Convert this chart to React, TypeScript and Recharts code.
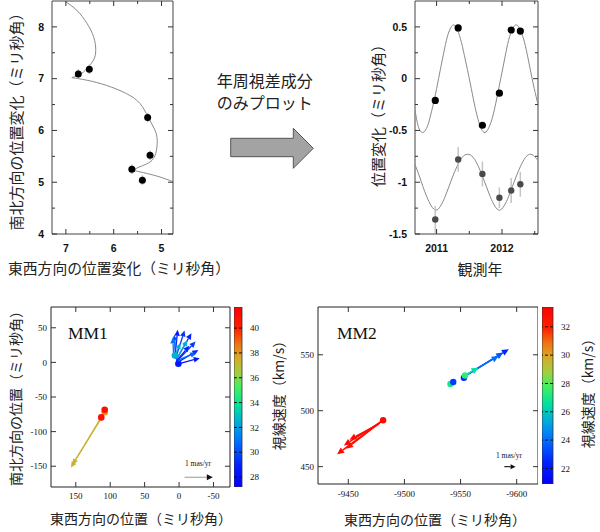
import React from "react";
import {
  ComposedChart,
  Line,
  Scatter,
  Bar,
  XAxis,
  YAxis,
  ErrorBar,
  ReferenceLine,
  ReferenceArea,
} from "recharts";

const JP = '"Noto Sans CJK JP", "Noto Sans", sans-serif';
const SANS = '"Liberation Sans", Arial, sans-serif';
const SERIF = '"Liberation Serif", "Times New Roman", serif';

// ---- top-left: sky track (east-west vs north-south offset, mas)
const p1Obs = [
  { x: 6.74, y: 7.09, err: 0.09 },
  { x: 6.51, y: 7.18, err: 0.09 },
  { x: 5.29, y: 6.25, err: 0.09 },
  { x: 5.24, y: 5.52, err: 0.09 },
  { x: 5.62, y: 5.25, err: 0.09 },
  { x: 5.4, y: 5.04, err: 0.09 },
];
const p1TrackA = [
  [7.03, 8.5], [6.77, 8.32], [6.56, 8.07], [6.42, 7.81], [6.375, 7.55],
  [6.42, 7.36], [6.53, 7.23], [6.67, 7.1], [6.875, 7.02],
];
const p1TrackB = [
  [6.875, 7.02], [6.56, 6.97], [6.15, 6.87], [5.73, 6.71], [5.45, 6.52],
  [5.28, 6.26], [5.14, 6.01], [5.09, 5.81], [5.12, 5.56], [5.24, 5.39],
  [5.45, 5.3], [5.6, 5.23],
];
const p1TrackC = [[5.6, 5.23], [5.45, 5.2], [5.1, 5.12], [4.76, 5.01]];
const p1XMajor = [7, 6, 5];
const p1XMinor = [6.5, 5.5];
const p1YMajor = [4, 5, 6, 7, 8];
const p1YMinor = [4.5, 5.5, 6.5, 7.5];

// ---- top-right: parallax only, vs observing year
const p2Upper = [
  { x: 2010.98, y: -0.21, err: 0.03 },
  { x: 2011.33, y: 0.49, err: 0.03 },
  { x: 2011.7, y: -0.45, err: 0.03 },
  { x: 2011.96, y: -0.14, err: 0.03 },
  { x: 2012.14, y: 0.47, err: 0.03 },
  { x: 2012.28, y: 0.46, err: 0.03 },
];
const p2Lower = [
  { x: 2010.98, y: -1.36, err: 0.13 },
  { x: 2011.33, y: -0.78, err: 0.12 },
  { x: 2011.7, y: -0.92, err: 0.12 },
  { x: 2011.96, y: -1.15, err: 0.1 },
  { x: 2012.14, y: -1.08, err: 0.12 },
  { x: 2012.28, y: -1.02, err: 0.12 },
];
const p2FitUpper = [
  [2010.67, -0.3], [2010.72, -0.46], [2010.79, -0.52], [2010.86, -0.46],
  [2010.91, -0.35], [2010.97, -0.19], [2011.03, 0.0], [2011.09, 0.19],
  [2011.15, 0.37], [2011.2, 0.47], [2011.26, 0.52], [2011.32, 0.47],
  [2011.38, 0.35], [2011.44, 0.18], [2011.5, 0.0], [2011.56, -0.19],
  [2011.62, -0.36], [2011.68, -0.48], [2011.74, -0.52], [2011.8, -0.47],
  [2011.86, -0.36], [2011.92, -0.19], [2011.98, 0.0], [2012.04, 0.19],
  [2012.1, 0.37], [2012.16, 0.48], [2012.22, 0.52], [2012.28, 0.47],
  [2012.34, 0.36], [2012.4, 0.19], [2012.46, 0.0], [2012.52, -0.17],
  [2012.55, -0.25],
];
const p2FitLower = [
  [2010.67, -0.83], [2010.73, -0.93], [2010.79, -1.04], [2010.85, -1.14],
  [2010.92, -1.23], [2010.99, -1.27], [2011.06, -1.23], [2011.13, -1.14],
  [2011.19, -1.04], [2011.25, -0.94], [2011.31, -0.85], [2011.39, -0.76],
  [2011.475, -0.73], [2011.56, -0.76], [2011.64, -0.85], [2011.7, -0.94],
  [2011.76, -1.04], [2011.82, -1.14], [2011.89, -1.23], [2011.96, -1.27],
  [2012.03, -1.23], [2012.1, -1.14], [2012.16, -1.04], [2012.22, -0.94],
  [2012.28, -0.85], [2012.36, -0.76], [2012.44, -0.73], [2012.51, -0.76],
  [2012.55, -0.79],
];
const p2XMajor = [2011, 2012];
const p2XMinor = [2011.5, 2012.5];
const p2YMajor = [0.5, 0, -0.5, -1, -1.5];
const p2YMinor = [0.25, -0.25, -0.75, -1.25];

// ---- bottom-left: MM1 maser spots and proper motions
const mm1Arrows = [
  { x1: 1, y1: -2, x2: -30, y2: 6, v: 28.5 },
  { x1: 2, y1: 0, x2: -28, y2: 18, v: 29 },
  { x1: 3, y1: 2, x2: -24, y2: 30, v: 29.5 },
  { x1: 4, y1: 4, x2: -18, y2: 42, v: 29 },
  { x1: 5, y1: 6, x2: -8, y2: 46, v: 29.5 },
  { x1: 6, y1: 8, x2: 2, y2: 47, v: 28.5 },
  { x1: 5, y1: 5, x2: 7, y2: 40, v: 30 },
  { x1: 2, y1: 3, x2: -25, y2: 14, v: 30.5 },
  { x1: 4, y1: 2, x2: -15, y2: 24, v: 29 },
  { x1: 3, y1: 6, x2: -12, y2: 32, v: 32.5 },
  { x1: 6, y1: 10, x2: -2, y2: 28, v: 32.5 },
  { x1: 8, y1: 12, x2: 9, y2: 36, v: 31 },
  { x1: 108, y1: -71, x2: 157, y2: -152, v: 37.3 },
  { x1: 112, y1: -79, x2: 155, y2: -148, v: 37.3 },
];
const mm1Spots = [
  { x: 108, y: -72, v: 38 },
  { x: 108, y: -68.5, v: 41 },
  { x: 113, y: -79.5, v: 41 },
  { x: 1, y: -2, v: 28.5 },
  { x: 6, y: 10, v: 32.5 },
];
const mm1Range = [27.2, 41.7];
const mm1Scale = [{ x: -8, y: -166 }, { x: -49, y: -166 }];
const mm1XTicks = [150, 100, 50, 0, -50];
const mm1YTicks = [50, 0, -50, -100, -150];
const mm1CbTicks = [28, 30, 32, 34, 36, 38, 40];

// ---- bottom-right: MM2
const mm2Arrows = [
  { x1: -9480, y1: 491, x2: -9440, y2: 461, v: 33 },
  { x1: -9479, y1: 490, x2: -9446, y2: 469, v: 33 },
  { x1: -9477, y1: 488, x2: -9451, y2: 474, v: 33 },
  { x1: -9478, y1: 489, x2: -9448, y2: 466, v: 32.8 },
  { x1: -9553, y1: 530.5, x2: -9593, y2: 555, v: 22.5 },
  { x1: -9552, y1: 529.5, x2: -9588, y2: 552, v: 23.5 },
  { x1: -9555, y1: 532, x2: -9584, y2: 549, v: 24 },
  { x1: -9553, y1: 531, x2: -9566, y2: 538.5, v: 26.5 },
];
const mm2Spots = [
  { x: -9481, y: 491.5, v: 33 },
  { x: -9553, y: 529.5, v: 22.5 },
  { x: -9541, y: 523.9, v: 27 },
  { x: -9543.5, y: 525.7, v: 23 },
  { x: -9554, y: 531.5, v: 27.5 },
];
const mm2Range = [20.9, 33.4];
const mm2Scale = [{ x: -9589, y: 450 }, { x: -9599, y: 450 }];
const mm2XTicks = [-9450, -9500, -9550, -9600];
const mm2YTicks = [450, 500, 550];
const mm2CbTicks = [22, 24, 26, 28, 30, 32];

const JET: [number, string][] = [
  [0, "#0000ff"], [0.12, "#0020ff"], [0.25, "#0070ff"], [0.35, "#00a8e0"],
  [0.45, "#00e0a0"], [0.55, "#40f060"], [0.63, "#a0d040"], [0.72, "#d8a828"],
  [0.8, "#f07010"], [0.88, "#ff2000"], [1, "#ff0000"],
];

const hex = (c: string) => [1, 3, 5].map((i) => parseInt(c.slice(i, i + 2), 16));
const jet = (t: number) => {
  t = Math.max(0, Math.min(1, t));
  for (let i = 1; i < JET.length; i++) {
    if (t <= JET[i][0]) {
      const [t0, c0] = JET[i - 1];
      const [t1, c1] = JET[i];
      const f = (t - t0) / (t1 - t0);
      const a = hex(c0);
      const b = hex(c1);
      return `rgb(${a.map((v, k) => Math.round(v + (b[k] - v) * f)).join(",")})`;
    }
  }
  return JET[JET.length - 1][1];
};
const velColor = (v: number, r: number[]) => jet((v - r[0]) / (r[1] - r[0]));

const xy = (a: number[][]) => a.map(([x, y]) => ({ x, y }));

type Box = { l: number; r: number; t: number; b: number };
type TickCfg = {
  box: Box;
  major: number[];
  gap: number;
  font: string;
  size: number;
  weight?: number;
};

const xTick = (c: TickCfg) => (p: any) => {
  const x = p.x;
  const v = p.payload.value;
  const maj = c.major.includes(v);
  const len = maj ? 5 : 3;
  return (
    <g>
      <line x1={x} x2={x} y1={c.box.b} y2={c.box.b - len} stroke="#333" />
      <line x1={x} x2={x} y1={c.box.t} y2={c.box.t + len} stroke="#333" />
      {maj && (
        <text x={x} y={c.box.b + c.gap} dy="0.35em" textAnchor="middle"
          fontFamily={c.font} fontSize={c.size} fontWeight={c.weight} fill="#111">
          {String(v)}
        </text>
      )}
    </g>
  );
};

const yTick = (c: TickCfg) => (p: any) => {
  const y = p.y;
  const v = p.payload.value;
  const maj = c.major.includes(v);
  const len = maj ? 5 : 3;
  return (
    <g>
      <line x1={c.box.l} x2={c.box.l + len} y1={y} y2={y} stroke="#333" />
      <line x1={c.box.r} x2={c.box.r - len} y1={y} y2={y} stroke="#333" />
      {maj && (
        <text x={c.box.l - c.gap} y={y} dy="0.35em" textAnchor="end"
          fontFamily={c.font} fontSize={c.size} fontWeight={c.weight} fill="#111">
          {String(v)}
        </text>
      )}
    </g>
  );
};

const arrowShape = (color: string, head = 6, hw = 2.8, lw = 1.3, lineColor?: string) => (p: any) => {
  const { x1, y1, x2, y2 } = p;
  const dx = x2 - x1;
  const dy = y2 - y1;
  const L = Math.hypot(dx, dy) || 1;
  const ux = dx / L;
  const uy = dy / L;
  const bx = x2 - ux * head;
  const by = y2 - uy * head;
  return (
    <g>
      <line x1={x1} y1={y1} x2={bx} y2={by} stroke={lineColor || color} strokeWidth={lw} />
      <polygon
        points={`${x2},${y2} ${bx - uy * hw},${by + ux * hw} ${bx + uy * hw},${by - ux * hw}`}
        fill={color}
      />
    </g>
  );
};

const Txt = ({ x, y, text, size, font = JP, rot = 0, start = false, color = "#222" }: any) => (
  <div
    style={{
      position: "absolute",
      left: x,
      top: y,
      transform: `translate(${start ? "0" : "-50%"}, -50%) rotate(${rot}deg)`,
      fontSize: size,
      fontFamily: font,
      whiteSpace: "nowrap",
      lineHeight: 1,
      color,
    }}
  >
    {text}
  </div>
);

const ColorBar = ({ left, top, w, h, range, ticks, id }: any) => {
  const tick = (p: any) => (
    <text x={w + 8} y={p.y} dy="0.35em" textAnchor="start" fontFamily={SERIF} fontSize={9} fill="#111">
      {String(p.payload.value)}
    </text>
  );
  return (
    <div style={{ position: "absolute", left, top }}>
      <ComposedChart width={w + 30} height={h} data={[{ k: "cb", v: range }]}
        margin={{ top: 0, right: 0, bottom: 0, left: 0 }} barCategoryGap={0}>
        <defs>
          <linearGradient id={id} x1="0" y1="1" x2="0" y2="0">
            {JET.map(([t, c]) => <stop key={t} offset={t} stopColor={c} />)}
          </linearGradient>
        </defs>
        <XAxis dataKey="k" type="category" hide />
        <YAxis orientation="right" type="number" domain={range} ticks={ticks} width={30}
          tick={tick} tickLine={false} axisLine={false} interval={0} allowDataOverflow />
        <Bar dataKey="v" fill={`url(#${id})`} stroke="#333" strokeWidth={0.8} isAnimationActive={false} />
        {ticks.map((t: number) => (
          <ReferenceLine key={t} y={t} stroke="#111" strokeDasharray="3 2" />
        ))}
      </ComposedChart>
    </div>
  );
};

const dot = (r: number, range: number[]) => (p: any) => (
  <circle cx={p.cx} cy={p.cy} r={r} fill={velColor(p.payload?.v ?? range[0], range)} />
);

export default function App() {
  const b1: Box = { l: 52, r: 173, t: 1, b: 234 };
  const b2: Box = { l: 75, r: 198, t: 1, b: 234 };
  const b3: Box = { l: 51, r: 230, t: 17, b: 197 };
  const b4: Box = { l: 48, r: 268, t: 17, b: 194 };
  const topTick = { font: SANS, size: 10.5, weight: 700 };
  const botTick = { font: SERIF, size: 9 };

  return (
    <div style={{ position: "absolute", left: 0, top: 0, width: 600, height: 532, background: "#fff", overflow: "hidden" }}>
      {/* top-left */}
      <div style={{ position: "absolute", left: 0, top: 0 }}>
        <ComposedChart width={200} height={260} margin={{ top: 1, right: 27, bottom: 0, left: 0 }}>
          <XAxis type="number" dataKey="x" domain={[4.76, 7.29]} reversed allowDataOverflow
            ticks={[...p1XMajor, ...p1XMinor]} interval={0} height={26} tickLine={false} axisLine={false}
            tick={xTick({ box: b1, major: p1XMajor, gap: 14, ...topTick })} />
          <YAxis type="number" dataKey="y" domain={[4, 8.5]} allowDataOverflow
            ticks={[...p1YMajor, ...p1YMinor]} interval={0} width={52} tickLine={false} axisLine={false}
            tick={yTick({ box: b1, major: p1YMajor, gap: 8, ...topTick })} />
          <ReferenceArea x1={4.76} x2={7.29} y1={4} y2={8.5} fill="none" stroke="#444" />
          {[p1TrackA, p1TrackB, p1TrackC].map((seg, i) => (
            <Line key={i} data={xy(seg)} dataKey="y" type="natural" stroke="#8a8a8a" strokeWidth={1}
              dot={false} isAnimationActive={false} />
          ))}
          <Scatter data={p1Obs} isAnimationActive={false}
            shape={(p: any) => <circle cx={p.cx} cy={p.cy} r={3.5} fill="#000" />}>
            <ErrorBar dataKey="err" direction="y" width={0} stroke="#b5b5b5" strokeWidth={1.5} />
          </Scatter>
        </ComposedChart>
      </div>
      <Txt x={15} y={118} text="南北方向の位置変化（ミリ秒角）" size={15} rot={-90} />
      <Txt x={8} y={268} text="東西方向の位置変化（ミリ秒角）" size={14.8} start />

      {/* middle arrow */}
      <Txt x={216.7} y={80} text="年周視差成分" size={16} start />
      <Txt x={216.7} y={101.7} text="のみプロット" size={16} start />
      <svg style={{ position: "absolute", left: 0, top: 0 }} width={600} height={200}>
        <polygon
          points="230.7,138.3 293.3,138.3 293.3,128.3 313.3,148.3 293.3,168.3 293.3,156.7 230.7,156.7"
          fill="#a3a3a3" stroke="#555" strokeWidth={1} />
      </svg>

      {/* top-right */}
      <div style={{ position: "absolute", left: 340, top: 0 }}>
        <ComposedChart width={260} height={260} margin={{ top: 1, right: 62, bottom: 0, left: 0 }}>
          <XAxis type="number" dataKey="x" domain={[2010.67, 2012.55]} allowDataOverflow
            ticks={[...p2XMajor, ...p2XMinor]} interval={0} height={26} tickLine={false} axisLine={false}
            tick={xTick({ box: b2, major: p2XMajor, gap: 14, ...topTick })} />
          <YAxis type="number" dataKey="y" domain={[-1.5, 0.75]} allowDataOverflow
            ticks={[...p2YMajor, ...p2YMinor]} interval={0} width={75} tickLine={false} axisLine={false}
            tick={yTick({ box: b2, major: p2YMajor, gap: 8, ...topTick })} />
          <ReferenceArea x1={2010.67} x2={2012.55} y1={-1.5} y2={0.75} fill="none" stroke="#444" />
          <Line data={xy(p2FitUpper)} dataKey="y" type="natural" stroke="#8a8a8a" strokeWidth={1}
            dot={false} isAnimationActive={false} />
          <Line data={xy(p2FitLower)} dataKey="y" type="natural" stroke="#8a8a8a" strokeWidth={1}
            dot={false} isAnimationActive={false} />
          <Scatter data={p2Lower} isAnimationActive={false}
            shape={(p: any) => <circle cx={p.cx} cy={p.cy} r={3.2} fill="#4a4a4a" />}>
            <ErrorBar dataKey="err" direction="y" width={0} stroke="#c4c4c4" strokeWidth={1.5} />
          </Scatter>
          <Scatter data={p2Upper} isAnimationActive={false}
            shape={(p: any) => <circle cx={p.cx} cy={p.cy} r={3.6} fill="#000" />}>
            <ErrorBar dataKey="err" direction="y" width={0} stroke="#b5b5b5" strokeWidth={1.5} />
          </Scatter>
        </ComposedChart>
      </div>
      <Txt x={376.7} y={111.5} text="位置変化（ミリ秒角）" size={15} rot={-90} />
      <Txt x={480} y={268} text="観測年" size={15} />

      {/* bottom-left MM1 */}
      <div style={{ position: "absolute", left: 0, top: 290 }}>
        <ComposedChart width={300} height={242} margin={{ top: 17, right: 70, bottom: 0, left: 0 }}>
          <XAxis type="number" dataKey="x" domain={[-74, 186]} reversed allowDataOverflow
            ticks={mm1XTicks} interval={0} height={45} tickLine={false} axisLine={false}
            tick={xTick({ box: b3, major: mm1XTicks, gap: 8.5, ...botTick })} />
          <YAxis type="number" dataKey="y" domain={[-180, 80]} allowDataOverflow
            ticks={mm1YTicks} interval={0} width={51} tickLine={false} axisLine={false}
            tick={yTick({ box: b3, major: mm1YTicks, gap: 4, ...botTick })} />
          <ReferenceArea x1={-74} x2={186} y1={-180} y2={80} fill="none" stroke="#222" />
          {mm1Arrows.map((a, i) => (
            <ReferenceLine key={i} segment={[{ x: a.x1, y: a.y1 }, { x: a.x2, y: a.y2 }]}
              shape={arrowShape(velColor(a.v, mm1Range), 6, 2.8, 1.3)} />
          ))}
          <ReferenceLine segment={mm1Scale} shape={arrowShape("#111", 6, 3, 1.3, "#b0b0b0")} />
          <Scatter data={mm1Spots} isAnimationActive={false} shape={dot(3.3, mm1Range)} />
        </ComposedChart>
      </div>
      <ColorBar left={234} top={307} w={8} h={180} range={mm1Range} ticks={mm1CbTicks} id="jet1" />
      <Txt x={68} y={334} text="MM1" size={17.5} font={SERIF} start color="#111" />
      <Txt x={198} y={464} text="1 mas/yr" size={7.5} font={SERIF} color="#111" />
      <Txt x={15} y={395} text="南北方向の位置（ミリ秒角）" size={14} rot={-90} />
      <Txt x={141} y={518} text="東西方向の位置（ミリ秒角）" size={14} />
      <Txt x={278} y={392} text="視線速度（km/s）" size={14} rot={-90} />

      {/* bottom-right MM2 */}
      <div style={{ position: "absolute", left: 270, top: 290 }}>
        <ComposedChart width={268} height={242} margin={{ top: 17, right: 0, bottom: 0, left: 0 }}>
          <XAxis type="number" dataKey="x" domain={[-9619, -9423]} reversed allowDataOverflow
            ticks={mm2XTicks} interval={0} height={48} tickLine={false} axisLine={false}
            tick={xTick({ box: b4, major: mm2XTicks, gap: 10, ...botTick })} />
          <YAxis type="number" dataKey="y" domain={[434.5, 592.7]} allowDataOverflow
            ticks={mm2YTicks} interval={0} width={48} tickLine={false} axisLine={false}
            tick={yTick({ box: b4, major: mm2YTicks, gap: 4, ...botTick })} />
          <ReferenceArea x1={-9619} x2={-9423} y1={434.5} y2={592.7} fill="none" stroke="#222" />
          {mm2Arrows.map((a, i) => (
            <ReferenceLine key={i} segment={[{ x: a.x1, y: a.y1 }, { x: a.x2, y: a.y2 }]}
              shape={arrowShape(velColor(a.v, mm2Range), 7, 3.2, 1.5)} />
          ))}
          <ReferenceLine segment={mm2Scale} shape={arrowShape("#111", 5, 2.5, 1.1)} />
          <Scatter data={mm2Spots} isAnimationActive={false} shape={dot(3.2, mm2Range)} />
        </ComposedChart>
      </div>
      <ColorBar left={542} top={307} w={11} h={177} range={mm2Range} ticks={mm2CbTicks} id="jet2" />
      <Txt x={337} y={334} text="MM2" size={17.5} font={SERIF} start color="#111" />
      <Txt x={509} y={456} text="1 mas/yr" size={7.5} font={SERIF} color="#111" />
      <Txt x={435} y={519} text="東西方向の位置（ミリ秒角）" size={14} />
      <Txt x={587} y={390} text="視線速度（km/s）" size={14} rot={-90} />
    </div>
  );
}
